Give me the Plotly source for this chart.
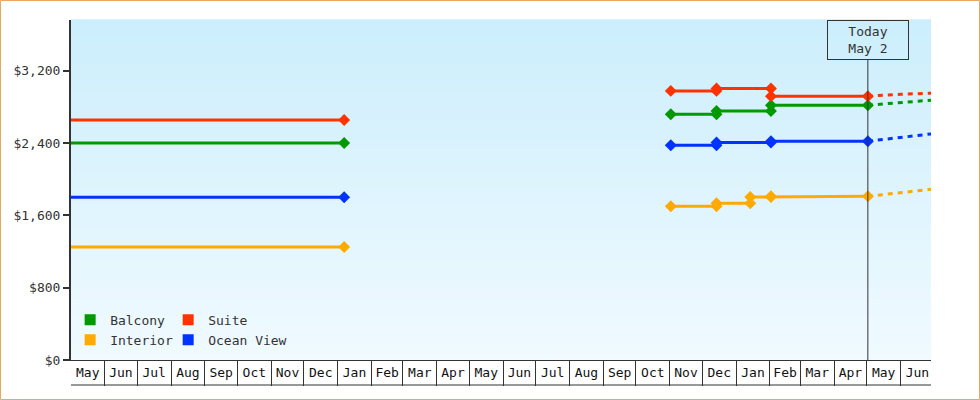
import plotly.graph_objects as go

# Preisverlauf (Kabinentypen)
hist_dates = ["2023-05-01", "2024-01-07"]
balcony_hist = [2400, 2400]
suite_hist = [2655, 2655]
ocean_hist = [1800, 1800]
interior_hist = [1250, 1250]

step_dates = ["2024-11-02", "2024-12-14", "2024-12-14", "2025-02-02", "2025-02-02", "2025-05-02"]
balcony_recent = [2718, 2718, 2754, 2754, 2818, 2818]
suite_recent = [2976, 2976, 3003, 3003, 2917, 2917]
ocean_recent = [2375, 2375, 2406, 2406, 2420, 2420]

interior_dates = ["2024-11-02", "2024-12-14", "2024-12-14", "2025-01-14", "2025-01-14",
                  "2025-02-02", "2025-02-02", "2025-05-02"]
interior_recent = [1700, 1700, 1733, 1733, 1803, 1803, 1810, 1810]

# Prognose (gestrichelt)
proj_dates = ["2025-05-02", "2025-06-01", "2025-06-29"]
balcony_proj = [2818, 2850, 2873]
suite_proj = [2917, 2939, 2950]
ocean_proj = [2420, 2463, 2500]
interior_proj = [1810, 1851, 1888]

today = "2025-05-02"
today_label = "Today<br>May 2"

series = [
    ("Balcony", "#009900", hist_dates, balcony_hist, step_dates, balcony_recent, balcony_proj, "legend"),
    ("Interior", "#ffaa00", hist_dates, interior_hist, interior_dates, interior_recent, interior_proj, "legend"),
    ("Suite", "#ff3300", hist_dates, suite_hist, step_dates, suite_recent, suite_proj, "legend2"),
    ("Ocean View", "#0033ff", hist_dates, ocean_hist, step_dates, ocean_recent, ocean_proj, "legend2"),
]

FONT = "DejaVu Sans Mono"
W, H = 980, 400
L, R, T, B = 71, 49, 20, 40
PW, PH = W - L - R, H - T - B

fig = go.Figure()

for name, color, hx, hy, rx, ry, py, leg in series:
    fig.add_trace(go.Scatter(
        x=hx + [None] + rx, y=hy + [None] + ry, mode="lines+markers",
        line=dict(color=color, width=3),
        marker=dict(symbol="diamond", size=7, color=color, line=dict(color=color, width=2)),
        showlegend=False, connectgaps=False, cliponaxis=False))
    fig.add_trace(go.Scatter(
        x=proj_dates, y=py, mode="lines",
        line=dict(color=color, width=3, dash="5px,5px"),
        showlegend=False))
    # Legendeneintrag mit Quadrat
    fig.add_trace(go.Scatter(
        x=[None], y=[None], mode="markers", name=name, legend=leg,
        marker=dict(symbol="square", size=11, color=color)))

# Verlaufs-Hintergrund in Streifen
shapes = []
n = 68
top = (204, 238, 252)
bot = (240, 250, 255)
for i in range(n):
    f = i / (n - 1)
    c = tuple(round(top[k] + (bot[k] - top[k]) * f) for k in range(3))
    shapes.append(dict(type="rect", xref="x domain", yref="y domain", layer="below",
                       x0=0, x1=1, y0=1 - (i + 1) / n, y1=1 - i / n + 0.002,
                       fillcolor="rgb(%d,%d,%d)" % c, line=dict(width=0)))

# Linie unter den Monatsnamen
shapes.append(dict(type="line", xref="paper", yref="paper", x0=0, x1=1,
                   y0=-25 / PH, y1=-25 / PH, line=dict(color="#333", width=1)))
# Heute-Linie
shapes.append(dict(type="line", xref="x", yref="paper", x0=today, x1=today,
                   y0=0, y1=1 - 40 / PH, line=dict(color="#333", width=1)))
# Rahmen um die ganze Grafik
shapes.append(dict(type="rect", xref="paper", yref="paper",
                   x0=-(L - 0.5) / PW, x1=1 + (R - 0.5) / PW,
                   y0=-(B - 0.5) / PH, y1=1 + (T - 0.5) / PH,
                   line=dict(color="#e8a860", width=1)))

legend_style = dict(xanchor="left", yanchor="top", bgcolor="rgba(0,0,0,0)",
                    itemwidth=30, tracegroupgap=0,
                    font=dict(family=FONT, size=13, color="#333"))

fig.update_layout(
    width=W, height=H,
    margin=dict(l=L, r=R, t=T, b=B),
    paper_bgcolor="white", plot_bgcolor="rgba(0,0,0,0)",
    font=dict(family=FONT, size=13, color="#333"),
    shapes=shapes,
    legend=dict(x=-0.001, y=0.162, **legend_style),
    legend2=dict(x=0.113, y=0.162, **legend_style),
    annotations=[dict(x=today, y=1, xref="x", yref="paper", xanchor="center", yanchor="top",
                      text=today_label, showarrow=False, align="center",
                      width=78, height=36, borderpad=1,
                      bordercolor="#333", borderwidth=1, bgcolor="rgba(0,0,0,0)",
                      font=dict(family=FONT, size=13, color="#333"))],
    hovermode="closest",
)

fig.update_xaxes(
    type="date", range=["2023-05-01 03:00", "2025-06-29"],
    dtick="M1", tick0="2023-05-01", tickformat="%b", ticklabelmode="period",
    ticks="outside", ticklen=25, tickwidth=1, tickcolor="#333",
    ticklabelstandoff=-25,
    showline=True, linecolor="#333", linewidth=1,
    showgrid=False, zeroline=False,
    tickfont=dict(family=FONT, size=13, color="#111"),
)
fig.update_yaxes(
    range=[0, 3760], tick0=0, dtick=800, tickprefix="$", tickformat=",",
    ticks="outside", ticklen=6, tickwidth=2, tickcolor="#333",
    showline=True, linecolor="#333", linewidth=2,
    showgrid=False, zeroline=False,
    tickfont=dict(family=FONT, size=13, color="#333"),
)

# Seitenrand des Browsers entfernen, damit die Grafik bei (0,0) beginnt
fig.write_html("out.html", config={"displayModeBar": False},
               post_script="document.body.style.margin='0';")
